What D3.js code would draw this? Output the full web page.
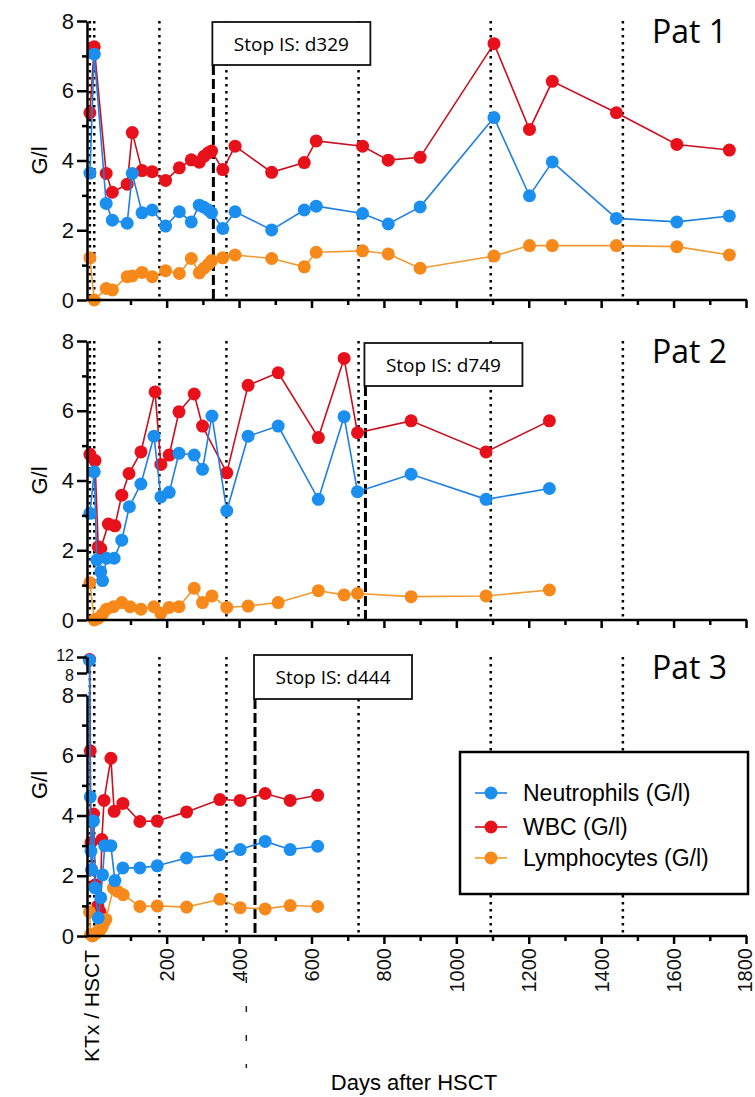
<!DOCTYPE html>
<meta charset="utf-8">
<script src="https://d3js.org/d3.v7.min.js"></script>
<style>
  body { margin: 0; background: #fff; }
  .axis path, .axis line { stroke: #000; stroke-width: 2.5; }
  .axis text { font-family: Arial, "Liberation Sans", sans-serif; fill: #111; }
</style>
<div id="chart"></div>
<script>

// ---- data (days after HSCT, values in G/l) ----
var p1Days  = [-12, 0, 33, 50, 91, 105, 132, 160, 197, 235, 268, 290, 303, 315, 324, 355, 389, 490, 580, 613, 741, 812, 900, 1104, 1202, 1265, 1442, 1609, 1754];
var p1Wbc   = [5.37, 7.26, 3.63, 3.09, 3.32, 4.80, 3.71, 3.68, 3.43, 3.79, 4.02, 3.95, 4.12, 4.22, 4.27, 3.74, 4.41, 3.66, 3.94, 4.56, 4.41, 4.01, 4.09, 7.35, 4.89, 6.27, 5.37, 4.46, 4.30];
var p1Neut  = [3.64, 7.05, 2.77, 2.29, 2.20, 3.63, 2.50, 2.58, 2.12, 2.53, 2.24, 2.72, 2.66, 2.58, 2.50, 2.05, 2.53, 2.01, 2.58, 2.69, 2.48, 2.18, 2.67, 5.23, 2.99, 3.96, 2.34, 2.24, 2.41];
var p1Lymph = [1.21, 0.00, 0.33, 0.29, 0.67, 0.69, 0.79, 0.67, 0.84, 0.76, 1.19, 0.78, 0.91, 1.02, 1.13, 1.21, 1.29, 1.19, 0.95, 1.37, 1.41, 1.32, 0.91, 1.26, 1.56, 1.56, 1.56, 1.53, 1.29];

var p2WbcDays   = [-12, 2, 11, 18, 39, 57, 76, 96, 129, 168, 184, 207, 234, 276, 299, 366, 425, 508, 619, 690, 727, 875, 1082, 1257];
var p2Wbc       = [4.75, 4.57, 2.10, 2.05, 2.75, 2.70, 3.58, 4.20, 4.82, 6.54, 4.46, 4.73, 5.97, 6.48, 5.56, 4.22, 6.73, 7.09, 5.23, 7.50, 5.37, 5.71, 4.82, 5.71];
var p2NeutDays  = [-12, 0, 7, 18, 23, 34, 55, 76, 97, 129, 165, 184, 207, 234, 276, 299, 325, 366, 425, 508, 619, 690, 727, 875, 1082, 1257];
var p2Neut      = [3.06, 4.25, 1.72, 1.38, 1.13, 1.77, 1.77, 2.29, 3.25, 3.90, 5.27, 3.53, 3.66, 4.78, 4.73, 4.32, 5.85, 3.13, 5.27, 5.56, 3.46, 5.83, 3.68, 4.18, 3.46, 3.77];
var p2LymphDays = [-12, 0, 11, 23, 34, 53, 76, 99, 129, 165, 184, 207, 234, 276, 299, 325, 366, 425, 508, 619, 690, 727, 875, 1082, 1257];
var p2Lymph     = [1.07, 0.00, 0.05, 0.17, 0.31, 0.38, 0.50, 0.38, 0.31, 0.38, 0.19, 0.36, 0.38, 0.91, 0.50, 0.69, 0.36, 0.40, 0.50, 0.84, 0.72, 0.76, 0.67, 0.69, 0.86];

var p3WbcDays   = [-13, -11, -9, -7, -2, 3, 10, 16, 21, 27, 46, 55, 79, 126, 174, 255, 347, 403, 472, 541, 617];
var p3Wbc       = [11.4, 6.15, 3.10, 2.20, 4.05, 1.70, 1.00, 0.80, 3.20, 4.50, 5.90, 4.14, 4.40, 3.80, 3.82, 4.12, 4.53, 4.50, 4.73, 4.50, 4.67];
var p3NeutDays  = [-13, -11, -9, -7, -2, 2, 11, 18, 23, 29, 46, 57, 79, 126, 174, 255, 347, 403, 472, 541, 617];
var p3Neut      = [11.2, 4.62, 2.82, 2.20, 3.82, 1.60, 0.60, 1.27, 2.03, 3.00, 3.00, 1.84, 2.26, 2.26, 2.33, 2.59, 2.70, 2.87, 3.14, 2.87, 2.98];
var p3LymphDays = [-13, -10, -5, 0, 5, 10, 16, 22, 27, 32, 53, 65, 80, 126, 174, 255, 347, 403, 472, 541, 617];
var p3Lymph     = [0.80, 0.05, 0.00, 0.05, 0.10, 0.15, 0.20, 0.30, 0.45, 0.55, 1.59, 1.48, 1.37, 0.98, 1.00, 0.96, 1.22, 0.94, 0.90, 1.01, 0.98];

var markerDays = [-12, 0, 180, 365, 730, 1095, 1460];   // dotted reference lines
var stopDays   = [329, 749, 444];                        // stop of immunosuppression
var patLabels  = ["Pat 1", "Pat 2", "Pat 3"];
var seriesNames = ["Neutrophils (G/l)", "WBC (G/l)", "Lymphocytes (G/l)"];
var xTickMajor = [200, 400, 600, 800, 1000, 1200, 1400, 1600, 1800];
var xTickMinor = [100, 300, 500, 700, 900, 1100, 1300, 1500, 1700];

// colours
var cNeut = "#1b8ff0", cWbc = "#e8111b", cLymph = "#f7891b";
var lNeut = "#1f7fe0", lWbc = "#c8101e", lLymph = "#f09a30";

var svg = d3.select("#chart")
  .append("svg")
    .attr("width", 755)
    .attr("height", 1097);

var x = d3.scaleLinear().domain([-20, 1800]).range([87, 746]);

// y scales per panel (panel 3 has a broken axis)
var y1 = d3.scaleLinear().domain([0, 8]).range([300, 21]);
var y2 = d3.scaleLinear().domain([0, 8]).range([620, 341]);
var y3lo = d3.scaleLinear().domain([0, 8]).range([936, 695]);
var y3hi = d3.scaleLinear().domain([8, 12]).range([673, 657]);
function y3(v) { return v <= 8 ? y3lo(v) : y3hi(v); }

var panels = [
  { y: y1, top: 21, bottom: 300, stop: stopDays[0], box: [22, 43], pat: patLabels[0],
    series: [[p1Days, p1Wbc, cWbc, lWbc], [p1Days, p1Lymph, cLymph, lLymph], [p1Days, p1Neut, cNeut, lNeut]] },
  { y: y2, top: 341, bottom: 620, stop: stopDays[1], box: [343, 43], pat: patLabels[1],
    series: [[p2WbcDays, p2Wbc, cWbc, lWbc], [p2LymphDays, p2Lymph, cLymph, lLymph], [p2NeutDays, p2Neut, cNeut, lNeut]] },
  { y: y3, top: 657, bottom: 936, stop: stopDays[2], box: [655, 44], pat: patLabels[2],
    series: [[p3WbcDays, p3Wbc, cWbc, lWbc], [p3LymphDays, p3Lymph, cLymph, lLymph], [p3NeutDays, p3Neut, cNeut, lNeut]] }
];

var axisFont = 'Arial, "Liberation Sans", sans-serif';
var calFont = '"Open Sans", "Noto Sans", sans-serif';

panels.forEach(function(p, pi) {
  var g = svg.append("g");

  // dotted reference lines
  g.selectAll(null)
    .data(markerDays)
    .enter()
    .append("line")
      .attr("x1", function(d) { return x(d); })
      .attr("x2", function(d) { return x(d); })
      .attr("y1", p.top)
      .attr("y2", p.bottom)
      .attr("stroke", "#000")
      .attr("stroke-width", 2.5)
      .attr("stroke-dasharray", "2.5,4.5");

  // stop IS box + dashed line
  var bx = x(p.stop);
  g.append("line")
    .attr("x1", bx).attr("x2", bx)
    .attr("y1", p.box[0] + p.box[1])
    .attr("y2", p.bottom)
    .attr("stroke", "#000")
    .attr("stroke-width", 3)
    .attr("stroke-dasharray", "10,4");
  g.append("rect")
    .attr("x", bx - 1)
    .attr("y", p.box[0])
    .attr("width", 158)
    .attr("height", p.box[1])
    .attr("fill", "#fff")
    .attr("stroke", "#111")
    .attr("stroke-width", 1.8);
  g.append("text")
    .attr("x", bx + 78)
    .attr("y", p.box[0] + p.box[1] / 2 + 7)
    .attr("text-anchor", "middle")
    .style("font-family", calFont)
    .style("font-size", "19px")
    .text("Stop IS: d" + p.stop);

  // patient label
  g.append("text")
    .attr("x", 652)
    .attr("y", p.top + 22)
    .style("font-family", calFont)
    .style("font-size", "32px")
    .text(p.pat);

  // series
  p.series.forEach(function(s) {
    var pts = s[0].map(function(d, i) { return [d, s[1][i]]; });
    g.append("path")
      .datum(pts)
      .attr("fill", "none")
      .attr("stroke", s[3])
      .attr("stroke-width", 1.6)
      .attr("d", d3.line()
        .x(function(d) { return x(d[0]); })
        .y(function(d) { return p.y(d[1]); }));
    g.selectAll(null)
      .data(pts)
      .enter()
      .append("circle")
        .attr("cx", function(d) { return x(d[0]); })
        .attr("cy", function(d) { return p.y(d[1]); })
        .attr("r", 6.5)
        .attr("fill", s[2]);
  });

  // x axis
  var xg = g.append("g").attr("class", "axis")
    .attr("transform", "translate(0," + p.bottom + ")");
  xg.call(d3.axisBottom(x).tickValues(xTickMajor).tickSize(8).tickSizeOuter(0)
    .tickFormat(pi == 2 ? d3.format("d") : function() { return ""; }));
  xg.select(".domain").attr("d", "M" + x(-20) + ",0H" + (x(1800) + 1));
  g.append("g").attr("class", "axis")
    .attr("transform", "translate(0," + p.bottom + ")")
    .call(d3.axisBottom(x).tickValues(xTickMinor).tickSize(5).tickSizeOuter(0).tickFormat(""))
    .select(".domain").remove();

  if (pi == 2) {
    xg.selectAll("text")
      .attr("transform", "rotate(-90)")
      .attr("x", -12)
      .attr("y", function(d) { return d == 1800 ? -2 : 0; })
      .attr("dy", "0.35em")
      .attr("text-anchor", "end")
      .style("font-size", "20px");
  }

  // y axis
  var lo = pi == 2 ? y3lo : p.y;
  var yg = g.append("g").attr("class", "axis")
    .attr("transform", "translate(" + x(-20) + ",0)");
  yg.call(d3.axisLeft(lo).tickValues([0, 2, 4, 6, 8]).tickSize(10).tickSizeOuter(0));
  yg.selectAll("text").style("font-size", "22px").attr("x", -13);
  g.append("g").attr("class", "axis")
    .attr("transform", "translate(" + x(-20) + ",0)")
    .call(d3.axisLeft(lo).tickValues([1, 3, 5, 7]).tickSize(5).tickFormat(""))
    .select(".domain").remove();

  if (pi == 2) {
    var ug = g.append("g").attr("class", "axis")
      .attr("transform", "translate(" + x(-20) + ",0)");
    ug.call(d3.axisLeft(y3hi).tickValues([8, 12]).tickSize(10).tickSizeOuter(0)
      .tickFormat(d3.format("d")));
    ug.selectAll("text")
      .style("font-size", "16px")
      .attr("x", -13)
      .attr("y", function(d) { return d == 12 ? -2 : 2; });
  }

  // y label
  var ly = pi == 2 ? 785 : (p.top + p.bottom) / 2;
  g.append("text")
    .attr("transform", "translate(47," + ly + ") rotate(-90)")
    .attr("text-anchor", "middle")
    .style("font-family", axisFont)
    .style("font-size", "22px")
    .text("G/l");
});

// KTx / HSCT label under the first panel-3 tick
svg.append("text")
  .attr("transform", "translate(" + (x(0) + 5) + ",950) rotate(-90)")
  .attr("text-anchor", "end")
  .style("font-family", axisFont)
  .style("font-size", "21px")
  .text("KTx / HSCT");

// stray dashed fragment below the axis (as in the source figure)
svg.append("line")
  .attr("x1", x(420)).attr("x2", x(420))
  .attr("y1", 977).attr("y2", 1068)
  .attr("stroke", "#222")
  .attr("stroke-width", 1.5)
  .attr("stroke-dasharray", "6,23");

svg.append("text")
  .attr("x", 414)
  .attr("y", 1090)
  .attr("text-anchor", "middle")
  .style("font-family", axisFont)
  .style("font-size", "22px")
  .text("Days after HSCT");

// legend
var legend = svg.append("g").attr("transform", "translate(460,752)");
legend.append("rect")
  .attr("width", 288)
  .attr("height", 142)
  .attr("fill", "#fff")
  .attr("stroke", "#000")
  .attr("stroke-width", 2.5);
var legendColors = [[cNeut, lNeut], [cWbc, lWbc], [cLymph, lLymph]];
var rows = legend.selectAll(null)
  .data(seriesNames)
  .enter()
  .append("g")
    .attr("transform", function(d, i) { return "translate(0," + [41, 75, 106][i] + ")"; });
rows.append("line")
  .attr("x1", 15).attr("x2", 47)
  .attr("stroke", function(d, i) { return legendColors[i][1]; })
  .attr("stroke-width", 1.6);
rows.append("circle")
  .attr("cx", 31)
  .attr("r", 6.5)
  .attr("fill", function(d, i) { return legendColors[i][0]; });
rows.append("text")
  .attr("x", 63)
  .attr("dy", "0.35em")
  .style("font-family", axisFont)
  .style("font-size", "23px")
  .text(function(d) { return d; });

</script>
